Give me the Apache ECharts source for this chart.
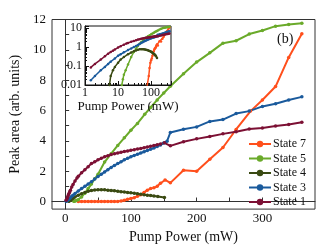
<!DOCTYPE html>
<html>
<head>
<meta charset="utf-8">
<script src="https://cdn.jsdelivr.net/npm/echarts@6/dist/echarts.min.js"></script>
<style>html,body{margin:0;padding:0;background:#fff}#c{width:332px;height:249px}</style>
</head>
<body>
<div id="c"></div>
<script>
// ---- data (Pump Power in mW, Peak area in arb. units) ----
const s7x = [20,25,30,35,40,45,50,55,60,65,70,75,80,85,90,95,100,105,110,115,120,125,130,135,140,145,152,160,180,200,220,240,260,282,300,320,340,360];
const s7y = [0.003,0.003,0.004,0.004,0.005,0.005,0.006,0.006,0.007,0.007,0.008,0.008,0.009,0.03,0.08,0.15,0.2,0.25,0.35,0.45,0.6,0.75,0.85,0.9,1.0,1.2,1.42,1.23,2.06,2.0,2.79,3.56,4.75,5.96,6.69,7.58,9.5,11.06];
const s5x = [13,14,15,17,20,25,30,35,40,45,50,60,70,80,90,100,110,121,130,140,150,160,180,200,220,240,260,280,300,320,340,360];
const s5y = [0.01,0.02,0.035,0.06,0.12,0.3,0.55,0.85,1.15,1.5,1.8,2.6,3.15,3.7,4.2,4.7,5.15,5.75,6.2,6.7,7.15,7.6,8.42,9.19,9.8,10.44,10.6,11.04,11.27,11.56,11.67,11.75];
const s4x = [5.5,6,7,8,10,12,15,20,25,30,35,40,45,50,55,60,65,70,75,80,85,90,95,100,105,110,115,120,125,130,135,141,151];
const s4y = [0.01,0.03,0.06,0.09,0.15,0.22,0.3,0.42,0.52,0.6,0.67,0.72,0.76,0.78,0.78,0.77,0.75,0.73,0.71,0.68,0.65,0.62,0.6,0.57,0.54,0.51,0.48,0.45,0.42,0.4,0.37,0.33,0.27];
const s3x = [1.5,2,3,4,5,6,8,10,12,15,20,25,30,35,40,45,50,55,60,65,70,75,80,85,90,95,100,105,110,115,120,125,130,135,140,145,150,155,160,180,200,220,240,260,280,300,320,340,360];
const s3y = [0.018,0.03,0.06,0.09,0.13,0.17,0.25,0.35,0.42,0.53,0.7,0.85,1.0,1.15,1.3,1.48,1.65,1.8,1.95,2.1,2.25,2.38,2.5,2.62,2.75,2.85,2.95,3.04,3.12,3.2,3.28,3.36,3.45,3.53,3.62,3.73,3.85,3.98,4.55,4.77,4.92,5.28,5.4,5.8,5.96,6.27,6.44,6.69,6.9];
const s1x = [1.5,2,3,4,5,6,7,8,10,12,15,18,20,25,30,35,40,45,50,55,60,65,70,75,80,85,90,95,100,105,110,115,120,125,130,135,140,145,151,160,180,200,220,240,260,280,300,320,340,360];
const s1y = [0.085,0.13,0.22,0.33,0.45,0.55,0.65,0.75,0.95,1.12,1.35,1.55,1.67,1.9,2.1,2.3,2.5,2.62,2.75,2.85,2.95,3.02,3.1,3.15,3.2,3.25,3.3,3.33,3.38,3.42,3.47,3.5,3.55,3.6,3.65,3.7,3.75,3.8,3.87,3.67,3.94,4.13,4.29,4.46,4.6,4.78,4.85,4.98,5.08,5.23];

const seriesNames = ['State 7','State 5','State 4','State 3','State 1'];
const seriesColors = ['#ff4f1c','#6aaa2a','#3a4a12','#1a5a9c','#7c1034'];
const seriesX = [s7x,s5x,s4x,s3x,s1x];
const seriesY = [s7y,s5y,s4y,s3y,s1y];

const xTickLabels = [0,100,200,300];
const xTicks = [0,50,100,150,200,250,300,350];
const yTickLabels = [0,2,4,6,8,10,12];
const yTicks = [0,1,2,3,4,5,6,7,8,9,10,11,12];

const FONT = '"Liberation Serif","DejaVu Serif",serif';

const series = [];
seriesNames.forEach((name,i)=>{
  const data = seriesX[i].map((x,j)=>[x,seriesY[i][j]]);
  series.push({
    name, type:'line', xAxisIndex:0, yAxisIndex:0, data,
    symbol:'circle', symbolSize:3.5, showSymbol:true,
    lineStyle:{width:2,color:seriesColors[i]}, itemStyle:{color:seriesColors[i]},
    z: 3, animation:false
  });
});
seriesNames.forEach((name,i)=>{
  const data = seriesX[i].map((x,j)=>[x,seriesY[i][j]]).filter(p=>p[0]>0 && p[1]>0);
  series.push({
    name, type:'line', xAxisIndex:1, yAxisIndex:1, data,
    symbol:'circle', symbolSize:2.5, showSymbol:true,
    lineStyle:{width:1.5,color:seriesColors[i]}, itemStyle:{color:seriesColors[i]},
    z: 10, animation:false
  });
});

const chart = echarts.init(document.getElementById('c'), null, {renderer:'canvas'});
chart.setOption({
  animation:false,
  backgroundColor:'#fff',
  textStyle:{fontFamily:FONT},
  grid:[
    {left:49,right:17,top:19.5,bottom:28.5,show:true,borderColor:'#333',borderWidth:1,backgroundColor:'transparent'},
    {left:85,top:26,width:86,height:59,show:true,borderColor:'#111',borderWidth:1,backgroundColor:'#fff',z:5}
  ],
  xAxis:[
    {type:'value',gridIndex:0,min:-20,max:380,
     axisLine:{show:true,lineStyle:{color:'#333',width:1}},
     axisTick:{show:true,inside:true,length:4,customValues:xTicks,lineStyle:{color:'#333'}},
     axisLabel:{customValues:xTickLabels,fontSize:13,color:'#111',fontFamily:FONT,margin:3},
     splitLine:{show:false},
     name:'Pump Power (mW)',nameLocation:'middle',nameGap:15,
     nameTextStyle:{fontSize:14,color:'#111',fontFamily:FONT}},
    {type:'log',gridIndex:1,min:1,max:400,logBase:10,z:6,
     axisLine:{show:true,lineStyle:{color:'#111',width:1}},
     axisTick:{show:true,inside:true,length:4,lineStyle:{color:'#111'}},
     minorTick:{show:true,splitNumber:9,length:2,lineStyle:{color:'#111'}},
     axisLabel:{fontSize:12,color:'#111',fontFamily:FONT,margin:2,showMaxLabel:false},
     splitLine:{show:false},
     name:'Pump Power (mW)',nameLocation:'middle',nameGap:9,
     nameTextStyle:{fontSize:13,color:'#111',fontFamily:FONT}}
  ],
  yAxis:[
    {type:'value',gridIndex:0,min:-0.5,max:12,
     axisLine:{show:true,lineStyle:{color:'#333',width:1}},
     axisTick:{show:true,inside:true,length:4,customValues:yTicks,lineStyle:{color:'#333'}},
     axisLabel:{customValues:yTickLabels,fontSize:13,color:'#111',fontFamily:FONT,margin:6},
     splitLine:{show:false},
     name:'Peak area (arb. units)',nameLocation:'middle',nameGap:30,nameRotate:90,
     nameTextStyle:{fontSize:14,color:'#111',fontFamily:FONT}},
    {type:'log',gridIndex:1,min:0.01,max:13,logBase:10,z:6,
     axisLine:{show:true,lineStyle:{color:'#111',width:1}},
     axisTick:{show:true,inside:true,length:4,lineStyle:{color:'#111'}},
     minorTick:{show:true,splitNumber:9,length:2,lineStyle:{color:'#111'}},
     axisLabel:{fontSize:12,color:'#111',fontFamily:FONT,margin:3,showMaxLabel:false,
       formatter:v=>String(+v.toPrecision(3))},
     splitLine:{show:false}}
  ],
  legend:{
    data:seriesNames, orient:'vertical', left:243, top:133,
    itemWidth:22, itemHeight:8, itemGap:2.5,
    textStyle:{fontSize:12,color:'#111',fontFamily:FONT,padding:[0,0,0,-3]},
    selectedMode:false
  },
  graphic:[{type:'text',left:277,top:32,style:{text:'(b)',font:'14px "Liberation Serif", serif',fill:'#111'}}],
  series
});
</script>
</body>
</html>
